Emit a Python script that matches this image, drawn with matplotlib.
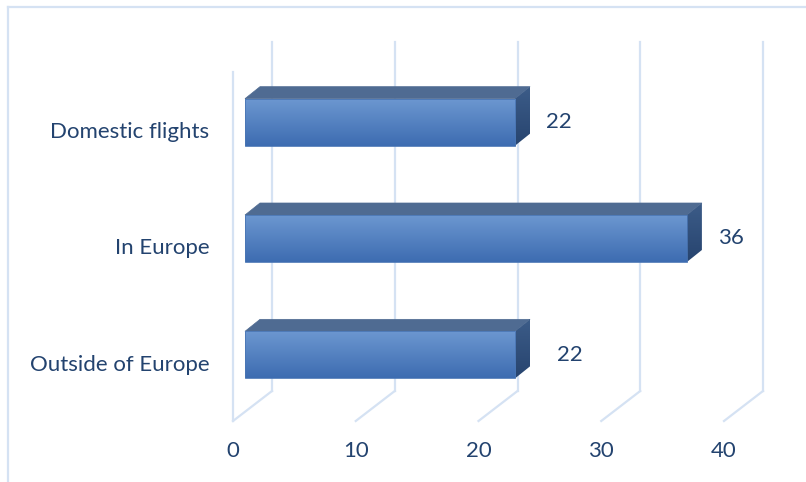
import numpy as np
import matplotlib
matplotlib.use("Agg")
import matplotlib.pyplot as plt
from matplotlib.patches import Polygon
from matplotlib.lines import Line2D
from matplotlib.colors import LinearSegmentedColormap

# ---- data ----
categories = ["Outside of Europe", "In Europe", "Domestic flights"]
values = [22, 36, 22]
x_ticks = [0, 10, 20, 30, 40]
label_gap_px = [55, 44, 44]   # label distance past the bar end, in pixels

# ---- style ----
TEXT = "#23436F"
GRID = "#D5E2F3"
FRONT_TOP = "#6C97D0"
FRONT_BOT = "#3D6CB1"
TOP_FACE = "#4F6B92"
SIDE_TOP = "#3C5C88"
SIDE_BOT = "#27446F"
FONT = "Lato"
FS = 16

W, H, DPI = 806, 482, 100
fig = plt.figure(figsize=(W / DPI, H / DPI), dpi=DPI)
fig.patch.set_facecolor("white")

# front plane of the 3D box (pixels)
left_px, right_px, bottom_px, top_px = 233, 724, 421, 72
ax = fig.add_axes([left_px / W, 1 - bottom_px / H,
                   (right_px - left_px) / W, (bottom_px - top_px) / H])
ax.set_xlim(0, 40)
ax.set_ylim(-0.5, 2.5)
ax.set_facecolor("none")
for s in ax.spines.values():
    s.set_visible(False)

# pixel size of one data unit
p0 = ax.transData.transform((0, 0))
ux = ax.transData.transform((1, 0))[0] - p0[0]
uy = ax.transData.transform((0, 1))[1] - p0[1]


def depth(dx_px, dy_px):
    return dx_px / ux, dy_px / uy


WALL = depth(39, 30)      # full depth of the box
BAR_FRONT = depth(12, 8)
BAR_BACK = depth(27, 20)
BAR_H = 0.404

# gridlines: floor diagonals, back wall verticals, left wall front edge
for v in x_ticks:
    ax.add_line(Line2D([v, v + WALL[0]], [-0.5, -0.5 + WALL[1]], color=GRID,
                       lw=1.6, clip_on=False, zorder=1))
    ax.add_line(Line2D([v + WALL[0], v + WALL[0]], [-0.5 + WALL[1], 2.5 + WALL[1]],
                       color=GRID, lw=1.6, clip_on=False, zorder=1))
ax.add_line(Line2D([0, 0], [-0.5, 2.5], color=GRID, lw=1.6, clip_on=False, zorder=1))

front_cmap = LinearSegmentedColormap.from_list("front", [FRONT_BOT, FRONT_TOP])
side_cmap = LinearSegmentedColormap.from_list("side", [SIDE_BOT, SIDE_TOP])
grad = np.linspace(0, 1, 256).reshape(-1, 1)

for i, (cat, val) in enumerate(zip(categories, values)):
    y0 = i - BAR_H / 2 + BAR_FRONT[1]
    y1 = i + BAR_H / 2 + BAR_FRONT[1]
    x0 = 0 + BAR_FRONT[0]
    x1 = val + BAR_FRONT[0]
    bdx = BAR_BACK[0] - BAR_FRONT[0]
    bdy = BAR_BACK[1] - BAR_FRONT[1]

    # top face
    ax.add_patch(Polygon([(x0, y1), (x1, y1), (x1 + bdx, y1 + bdy), (x0 + bdx, y1 + bdy)],
                         closed=True, facecolor=TOP_FACE, edgecolor=TOP_FACE,
                         lw=0.5, zorder=3, clip_on=False))
    # side face with gradient
    side = Polygon([(x1, y0), (x1 + bdx, y0 + bdy), (x1 + bdx, y1 + bdy), (x1, y1)],
                   closed=True, facecolor="none", edgecolor="none", zorder=3)
    ax.add_patch(side)
    im = ax.imshow(grad, cmap=side_cmap, origin="lower", aspect="auto",
                   extent=(x1, x1 + bdx, y0, y1 + bdy), zorder=3,
                   interpolation="bilinear")
    im.set_clip_path(side)
    # front face with gradient
    ax.imshow(grad, cmap=front_cmap, origin="lower", aspect="auto",
              extent=(x0, x1, y0, y1), zorder=4, interpolation="bilinear")
    ax.add_patch(Polygon([(x0, y0), (x1, y0), (x1, y1), (x0, y1)], closed=True,
                         facecolor="none", edgecolor="#4A76B4", lw=0.6, zorder=5))

    # value label
    ax.annotate(f"{val}", xy=(x1, (y0 + y1) / 2), xytext=(label_gap_px[i] * 72 / DPI, 0),
                textcoords="offset points", ha="center", va="center",
                fontsize=FS, color=TEXT, family=FONT, zorder=6)

ax.set_xlim(0, 40)
ax.set_ylim(-0.5, 2.5)

ax.set_xticks(x_ticks)
ax.set_xticklabels([str(t) for t in x_ticks], fontsize=FS, color=TEXT, family=FONT)
ax.set_yticks(range(len(categories)))
ax.set_yticklabels(categories, fontsize=FS, color=TEXT, family=FONT)
ax.tick_params(axis="x", length=0, pad=14.5)
ax.tick_params(axis="y", length=0, pad=17)

# chart area border (top and left edges)
fig.add_artist(Line2D([8 / W, 1], [1 - 7 / H, 1 - 7 / H], transform=fig.transFigure,
                      color=GRID, lw=1.6))
fig.add_artist(Line2D([8 / W, 8 / W], [0, 1 - 7 / H], transform=fig.transFigure,
                      color=GRID, lw=1.6))

fig.savefig("out.png", dpi=DPI, facecolor="white")
